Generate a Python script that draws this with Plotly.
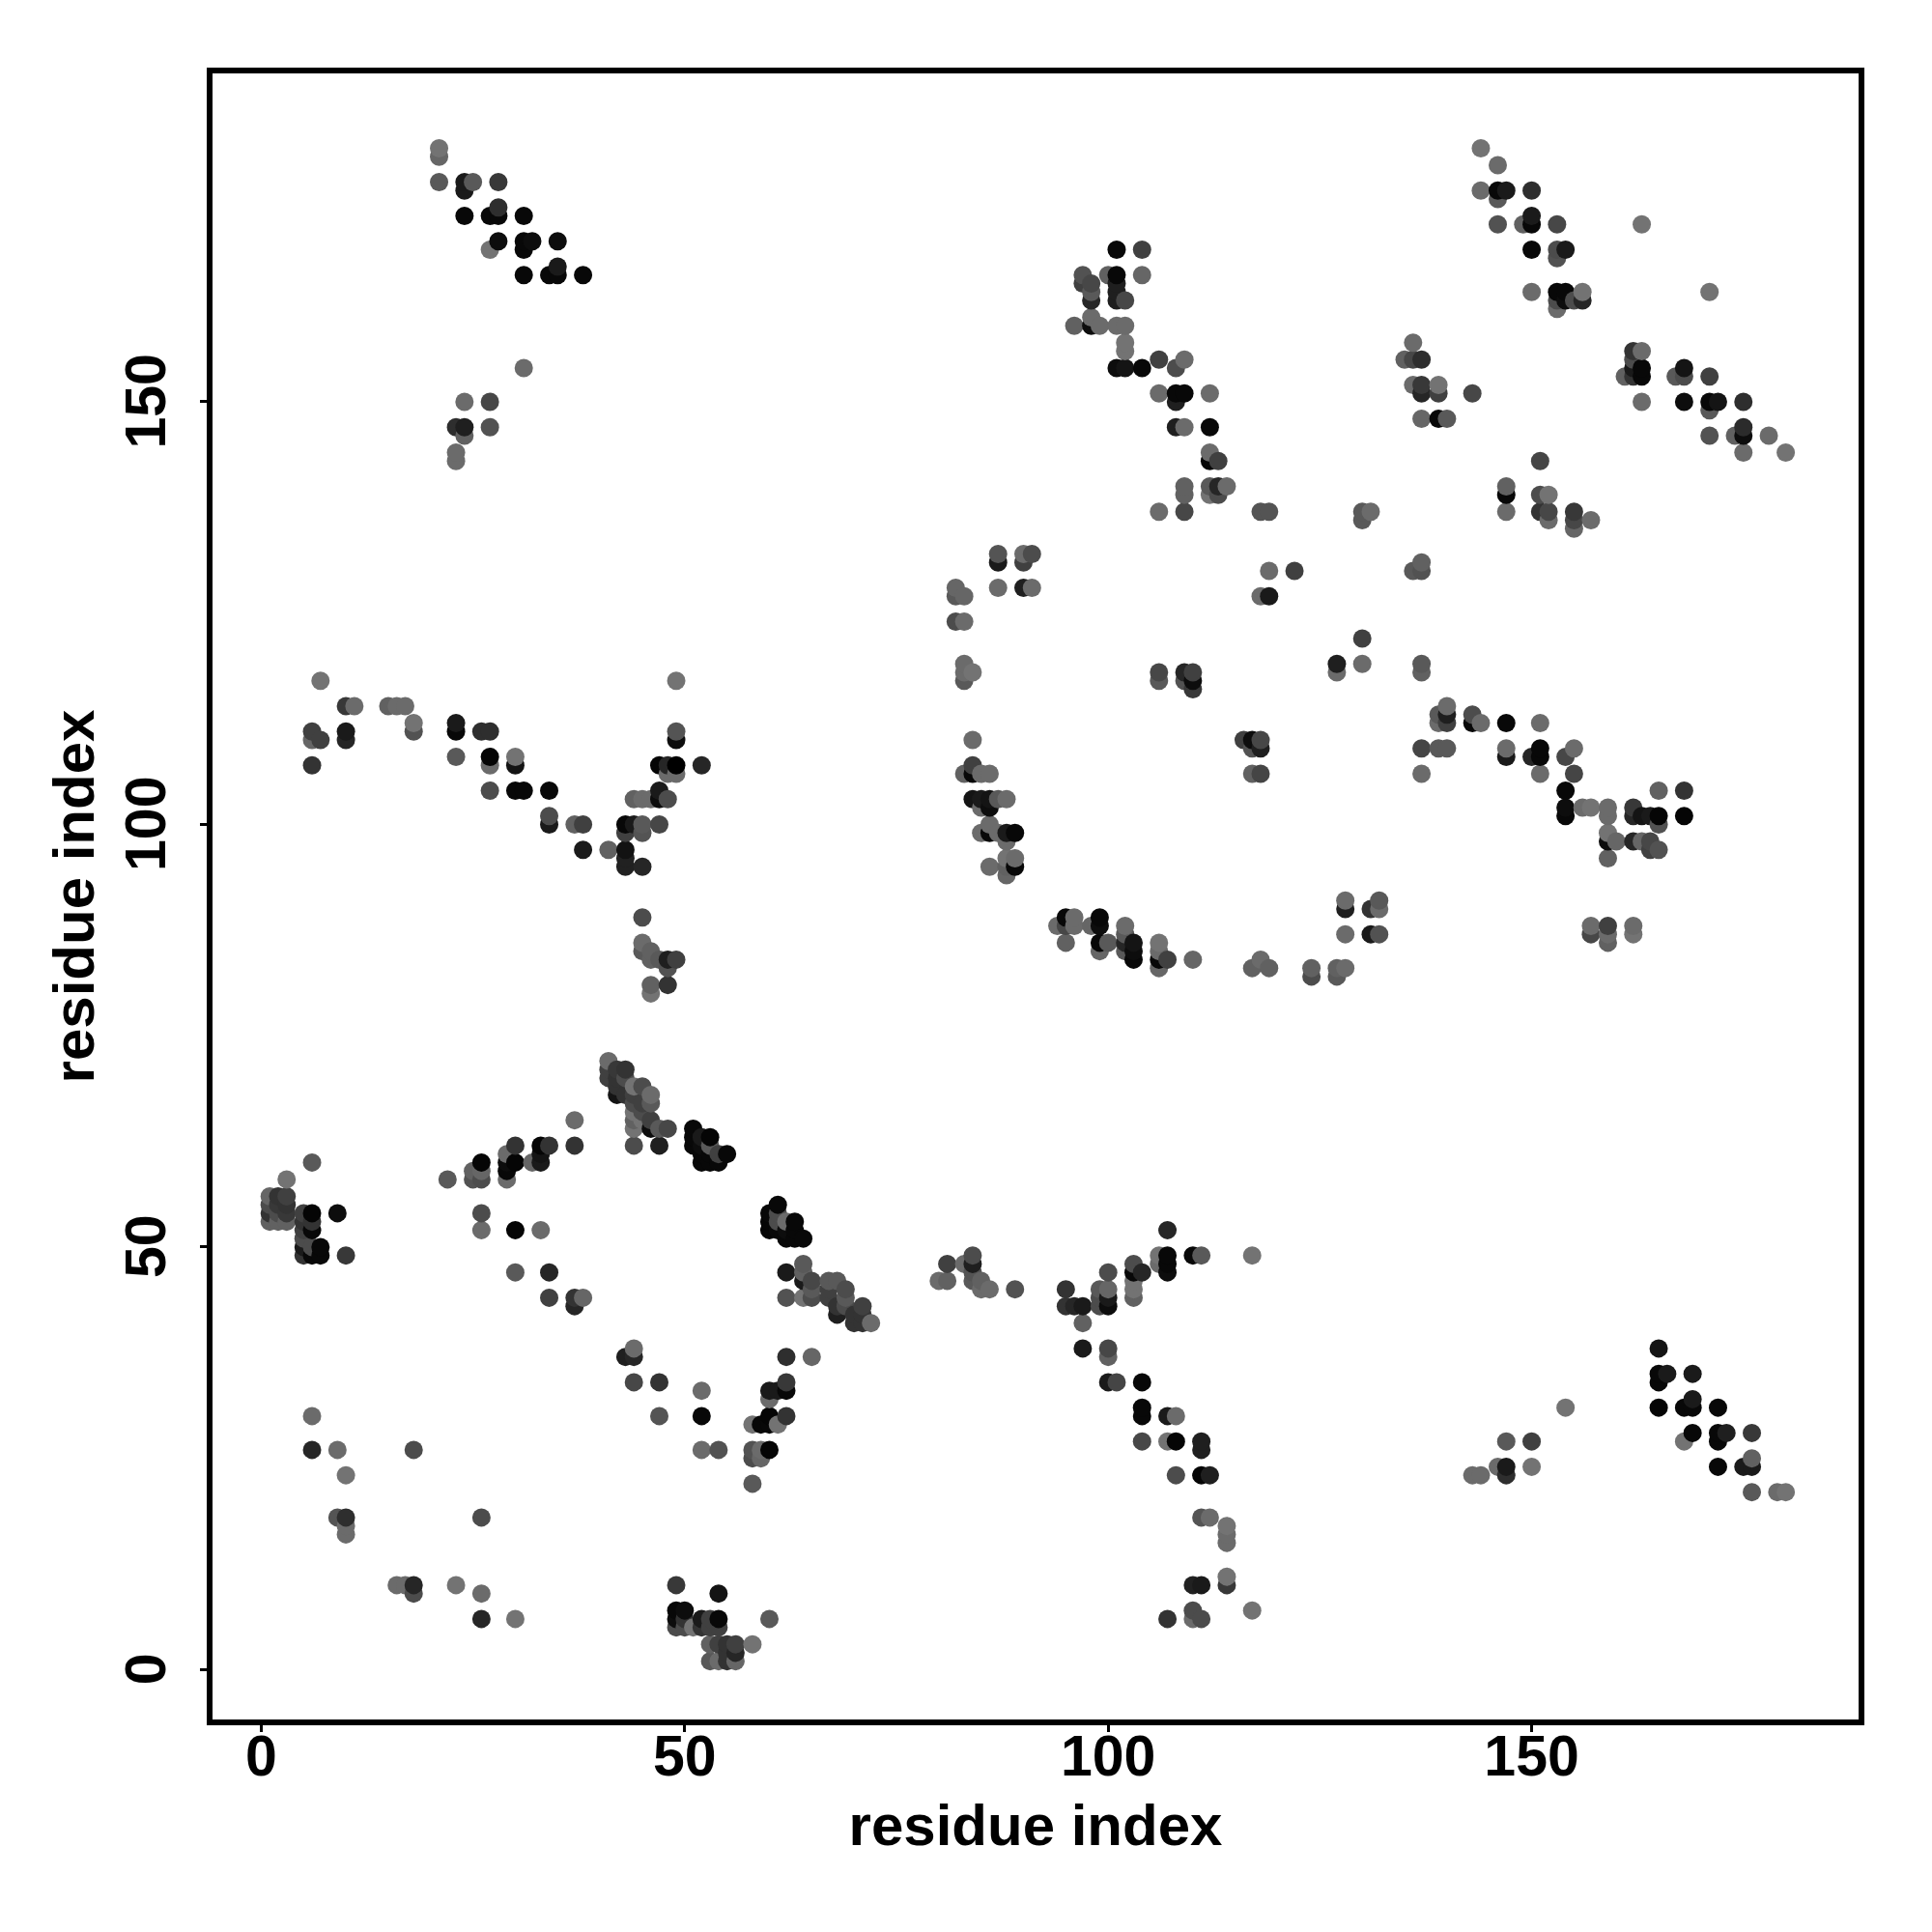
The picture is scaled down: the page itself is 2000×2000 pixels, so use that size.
import plotly.graph_objects as go

# (residue x, residue y, grey level)
top_left = [(21,180,.45),(21,179,.4),(21,176,.35),(24,176,.1),(25,176,.35),(28,176,.22),(24,175,.1),
 (24,172,.03),(27,172,.03),(28,172,.03),(31,172,.03),(28,173,.18),(28,169,.05),(31,169,.03),(32,169,.05),(35,169,.05),
 (27,168,.45),(31,168,.03),(31,165,.03),(34,165,.03),(35,165,.03),(38,165,.03),(35,166,.1),
 (31,154,.42),(24,150,.42),(27,150,.28),(23,147,.18),(24,147,.12),(27,147,.32),(24,146,.38),(23,144,.42),(23,143,.42)]

top_right = [(144,180,.45),(146,178,.42),(144,175,.42),(146,175,.03),(147,175,.1),(150,175,.18),(146,174,.35),
 (146,171,.32),(149,171,.38),(150,171,.03),(153,171,.28),(150,172,.1),(150,168,.03),(153,168,.3),(154,168,.1),(153,167,.32),
 (150,163,.42),(153,163,.03),(154,163,.03),(156,163,.45),(153,162,.3),(154,162,.05),(155,162,.3),(156,162,.15),(153,161,.42),
 (163,171,.45),(171,163,.45),(162,156,.2),(163,156,.42),(162,155,.3),(162,154,.1),(163,154,.03),(161,153,.38),(162,153,.2),(163,153,.03),
 (167,153,.35),(168,153,.3),(168,154,.08),(171,153,.25),(163,150,.42),(168,150,.05),(171,150,.03),(172,150,.08),(175,150,.18),
 (171,149,.35),(171,146,.32),(174,146,.38),(175,146,.05),(178,146,.42),(175,147,.17),(175,144,.42),(180,144,.45),
 (136,157,.42),(135,155,.38),(136,155,.28),(137,155,.18),(136,152,.42),(137,152,.22),(139,152,.45),(137,151,.15),(139,151,.25),(143,151,.28),
 (137,148,.4),(139,148,.03),(140,148,.35),(151,143,.27),(147,140,.38),(147,139,.03),(151,139,.3),(152,139,.45),
 (147,137,.42),(151,137,.2),(152,137,.28),(155,137,.22),(152,136,.42),(155,136,.28),(157,136,.42),(155,135,.4)]

top_middle = [(101,168,.03),(104,168,.25),(97,165,.32),(100,165,.38),(101,165,.03),(104,165,.4),(97,164,.25),(98,164,.28),(101,164,.12),
 (98,163,.35),(101,163,.12),(98,162,.15),(101,162,.12),(102,162,.28),(98,160,.42),(96,159,.38),(98,159,.05),(99,159,.42),(101,159,.42),(102,159,.42),
 (102,157,.45),(102,156,.45),(106,155,.25),(109,155,.42),(101,154,.05),(102,154,.08),(104,154,.03),(108,154,.3),
 (106,151,.42),(108,151,.03),(109,151,.03),(112,151,.42),(108,150,.12),(108,147,.12),(109,147,.42),(112,147,.03),
 (112,144,.42),(112,143,.03),(113,143,.25),(109,140,.38),(112,140,.35),(113,140,.15),(114,140,.42),(109,139,.38),(112,139,.45),(113,139,.3),
 (106,137,.42),(109,137,.28),(118,137,.33),(119,137,.33),(130,137,.35),(131,137,.42),(130,136,.35)]

centre = [(87,132,.33),(90,132,.42),(91,132,.3),(87,131,.1),(90,131,.25),(87,128,.42),(90,128,.12),(91,128,.42),(82,128,.4),(82,127,.35),(83,127,.4),(82,124,.3),(83,124,.42),
 (83,119,.42),(83,118,.42),(84,118,.45),(83,117,.35),(106,118,.28),(106,117,.35),(109,118,.15),(110,118,.25),(109,117,.32),(110,117,.05),(110,116,.22),
 (119,130,.42),(122,130,.25),(118,127,.42),(119,127,.1),(130,122,.25),(127,119,.12),(130,119,.42),(127,118,.42),
 (84,110,.42),(116,110,.25),(117,110,.05),(118,110,.28),(117,109,.32),(118,109,.12),(117,106,.38),(118,106,.27),
 (84,107,.25),(83,106,.38),(84,106,.03),(85,106,.42),(86,106,.42),(84,103,.08),(85,103,.1),(86,103,.08),(87,103,.35),(88,103,.42),(85,102,.42),(86,102,.05),
 (86,100,.42),(85,99,.42),(86,99,.03),(87,99,.42),(88,99,.1),(89,99,.03),(88,98,.42),(88,96,.45),(89,96,.42),(86,95,.42),(88,95,.38),(89,95,.03),(88,94,.4),
 (95,89,.03),(96,89,.42),(94,88,.42),(95,88,.28),(96,88,.42),(98,88,.4),(99,88,.05),(99,89,.03),(95,86,.38),(99,86,.03),(100,86,.35),
 (102,88,.42),(102,87,.35),(102,86,.15),(103,86,.08),(99,85,.4),(102,85,.35),(103,85,.05),(103,84,.03),
 (106,86,.45),(106,85,.42),(106,84,.03),(106,83,.4),(107,84,.25),(110,84,.4),(117,83,.38),(119,83,.38),(118,84,.42),
 (124,83,.38),(127,83,.38),(128,83,.42),(124,82,.3),(127,82,.35),(128,91,.42),(132,91,.35),(128,90,.12),(131,90,.2),(132,90,.42),(128,87,.42),(131,87,.1),(132,87,.32)]

right_middle = [(130,119,.42),(137,119,.35),(137,118,.38),(137,131,.38),(137,130,.32),(136,130,.35),
 (140,114,.42),(139,113,.35),(140,113,.12),(143,113,.3),(139,112,.42),(140,112,.25),(143,112,.03),(144,112,.42),(147,112,.03),(151,112,.42),
 (137,109,.27),(139,109,.35),(140,109,.35),(147,109,.42),(151,109,.03),(155,109,.42),(147,108,.1),(150,108,.15),(151,108,.03),(154,108,.28),
 (137,106,.42),(151,106,.42),(155,106,.27),(154,104,.03),(165,104,.38),(168,104,.2),(154,102,.05),(156,102,.42),(157,102,.45),(159,102,.42),(162,102,.22),
 (154,101,.03),(159,101,.42),(162,101,.15),(163,101,.08),(164,101,.1),(165,101,.02),(168,101,.02),(165,100,.32),(159,99,.45),
 (159,98,.05),(160,98,.4),(162,98,.15),(163,98,.4),(164,98,.28),(164,97,.25),(165,97,.32),(159,96,.38),
 (157,88,.42),(159,88,.25),(162,88,.42),(157,87,.28),(159,87,.42),(162,87,.45),(159,86,.38)]

left_middle = [(7,117,.45),(49,117,.45),(10,114,.22),(11,114,.42),(15,114,.38),(16,114,.42),(17,114,.42),(18,112,.45),
 (6,111,.25),(10,111,.1),(18,111,.32),(23,112,.1),(23,111,.03),(26,111,.18),(27,111,.18),(6,110,.4),(7,110,.25),(10,110,.15),
 (6,107,.2),(23,108,.35),(27,108,.02),(27,107,.42),(30,108,.45),(30,107,.08),(27,104,.3),(30,104,.03),(31,104,.03),(34,104,.03),
 (34,101,.3),(34,100,.1),(37,100,.38),(38,100,.25),(43,100,.03),(44,100,.1),(45,100,.35),(47,100,.28),(43,99,.25),(45,99,.33),
 (38,97,.1),(41,97,.38),(43,97,.07),(43,96,.13),(43,95,.13),(45,95,.15),
 (47,107,.02),(48,107,.15),(49,107,.0),(52,107,.15),(48,106,.42),(49,106,.42),(49,111,.33),(49,110,.05),(47,104,.1),
 (47,103,.05),(44,103,.38),(45,103,.42),(46,103,.42),(48,103,.3),
 (45,89,.3),(45,86,.42),(45,85,.35),(46,85,.38),(46,84,.38),(47,84,.35),(48,84,.12),(49,84,.25),(48,83,.32),(46,81,.38),(48,81,.2),(46,80,.45)]

lower_left = [(6,60,.35),(3,58,.45),(1,56,.4),(2,56,.2),(3,56,.25),(1,55,.3),(2,55,.22),(3,55,.2),(1,54,.2),(2,54,.3),(3,54,.22),(5,54,.25),(6,54,.02),(9,54,.05),
 (1,53,.38),(2,53,.38),(3,53,.38),(5,53,.2),(6,53,.2),(5,52,.25),(6,52,.03),(5,51,.3),(5,50,.1),(6,50,.3),(7,50,.03),(5,49,.2),(6,49,.03),(7,49,.03),(10,49,.22),
 (22,58,.35),(25,58,.32),(26,58,.3),(29,58,.42),(25,59,.38),(26,59,.4),(29,59,.03),(26,60,.02),(29,60,.05),(30,60,.02),(32,60,.4),(33,60,.1),(29,61,.42),(33,61,.08),
 (30,62,.2),(33,62,.02),(34,62,.2),(37,62,.2),(37,65,.42),(26,54,.3),(26,52,.42),(30,52,.02),(33,52,.42),(30,47,.35),(34,47,.15),(34,44,.25),(37,44,.2),(38,44,.4),(37,43,.15),
 (44,38,.42),(43,37,.12),(44,37,.15),(44,34,.28),(47,34,.2)]

lower_centre = [(41,72,.42),(41,71,.25),(42,71,.22),(43,71,.2),(41,70,.25),(42,70,.2),(43,70,.3),(42,69,.2),(44,69,.45),(45,69,.3),
 (42,68,.08),(43,68,.2),(44,68,.25),(46,68,.42),(44,67,.3),(45,67,.25),(46,67,.35),(44,66,.45),(45,66,.3),(44,65,.38),(45,65,.45),(46,65,.25),
 (44,64,.45),(46,64,.05),(47,64,.35),(48,64,.28),(44,62,.3),(47,62,.12),
 (51,64,.03),(51,63,.03),(52,63,.1),(53,63,.02),(51,62,.03),(52,62,.05),(53,62,.35),(52,61,.03),(53,61,.03),(54,61,.25),(55,61,.03),(52,60,.03),(53,60,.03),(54,60,.03),
 (61,55,.03),(60,54,.03),(61,54,.3),(60,53,.02),(61,53,.3),(62,53,.42),(63,53,.03),(60,52,.02),(61,52,.03),(62,52,.05),(63,52,.03),(62,51,.03),(63,51,.03),(64,51,.03),
 (64,48,.35),(62,47,.1),(64,47,.38),(64,46,.1),(65,46,.28),(67,46,.35),(68,46,.35),(65,45,.35),(67,45,.25),(69,45,.3),(62,44,.32),(64,44,.45),(65,44,.3),(67,44,.25),(69,44,.35),
 (68,43,.2),(69,43,.3),(71,43,.25),(68,42,.12),(70,42,.2),(71,42,.2),(70,41,.2),(71,41,.2),(72,41,.42),
 (62,37,.18),(65,37,.4),(62,34,.22),(52,33,.42),(60,33,.1),(61,33,.1),(62,33,.03),(60,32,.42),(52,30,.03),(60,30,.02),(62,30,.2),
 (58,29,.45),(59,29,.03),(60,29,.03),(61,29,.45),(52,26,.4),(54,26,.3),(58,26,.32),(59,26,.42),(60,26,.02),(58,25,.3),(59,25,.4),(58,22,.35)]

lower_mid = [(81,48,.25),(84,49,.3),(84,48,.12),(83,48,.42),(80,46,.42),(81,46,.38),(84,46,.35),(85,46,.38),(84,47,.33),(85,45,.42),(86,45,.42),(89,45,.32),
 (95,45,.2),(95,43,.2),(96,43,.15),(97,43,.1),(99,43,.3),(100,43,.05),(99,44,.3),(100,44,.1),(99,45,.35),(100,45,.4),(100,47,.3),
 (103,48,.3),(103,47,.03),(104,47,.15),(103,46,.45),(103,45,.45),(103,44,.38),(106,48,.42),(107,48,.03),(106,49,.45),(107,49,.03),(110,49,.03),(111,49,.35),(117,49,.45),(107,47,.05),(107,52,.15),
 (97,41,.38),(97,38,.1),(100,38,.28),(100,37,.38),(100,34,.1),(101,34,.27),(104,34,.03),(104,31,.03),(104,30,.03),(107,30,.1),(108,30,.42),
 (104,27,.28),(107,27,.45),(108,27,.02),(111,27,.12),(111,26,.12),(108,23,.3),(111,23,.02),(112,23,.12),(111,18,.33),(112,18,.42),
 (114,17,.45),(114,16,.42),(114,15,.42),(114,11,.45),(110,10,.13),(111,10,.1),(114,10,.22),(110,7,.3),(117,7,.45),(107,6,.2),(110,6,.42),(111,6,.3)]

bottom_left = [(6,30,.42),(6,26,.15),(9,26,.42),(18,26,.3),(10,23,.45),(9,18,.33),(10,18,.18),(26,18,.3),(10,17,.42),(10,16,.42),
 (16,10,.42),(17,10,.42),(18,10,.15),(23,10,.45),(18,9,.3),(26,9,.42),(26,6,.15),(30,6,.45),
 (47,30,.33),(52,26,.42),(54,26,.32),(49,10,.22),(54,9,.08),(49,7,.03),(50,7,.05),(49,6,.05),(50,6,.2),(52,6,.1),(53,6,.25),(54,6,.03),(60,6,.35),
 (49,5,.3),(50,5,.3),(51,5,.45),(52,5,.2),(53,5,.25),(54,5,.25),(53,3,.38),(54,3,.25),(55,3,.2),(56,3,.25),(58,3,.45),(56,2,.15),(55,2,.2),
 (53,1,.35),(54,1,.42),(55,1,.2),(56,1,.4)]

bottom_right = [(165,38,.08),(165,35,.03),(166,35,.1),(169,35,.1),(165,34,.03),(169,32,.1),(154,31,.45),(165,31,.02),(168,31,.03),(169,31,.03),(172,31,.03),
 (169,28,.03),(172,28,.03),(173,28,.12),(176,28,.22),(147,27,.35),(150,27,.25),(168,27,.45),(172,27,.03),(176,25,.38),
 (146,24,.42),(147,24,.1),(150,24,.45),(172,24,.03),(175,24,.1),(176,24,.1),(143,23,.42),(144,23,.42),(147,23,.18),(176,21,.35),(179,21,.42),(180,21,.45)]

tick_values = [0, 50, 100, 150]
axis_title = "residue index"

merged = {}
for group in (top_left, top_right, top_middle, centre, right_middle, left_middle,
              lower_left, lower_centre, lower_mid, bottom_left, bottom_right):
    for a, b, g in group:
        merged[(a, b)] = g
ordered = sorted(merged.items())
xs = [k[0] for k, _ in ordered]
ys = [k[1] for k, _ in ordered]
colors = [f"rgb({round(g*255)},{round(g*255)},{round(g*255)})" for _, g in ordered]

fig = go.Figure(go.Scatter(x=xs, y=ys, mode="markers",
                           marker=dict(size=19, color=colors, line=dict(width=0))))
font = "Liberation Sans"
axis = dict(tickmode="array", tickvals=tick_values,
            showgrid=False, zeroline=False, showline=True, mirror=True, linecolor="black", linewidth=6,
            ticks="outside", ticklen=7, tickwidth=3, tickcolor="black",
            tickfont=dict(family=font, size=59, color="black", weight="bold"),
            title=dict(text=axis_title, font=dict(family=font, size=60, color="black", weight="bold")))
fig.update_layout(
    width=2000, height=2000, showlegend=False, paper_bgcolor="white", plot_bgcolor="white",
    margin=dict(l=220, r=76, t=76, b=220, autoexpand=False),
    font=dict(family=font, size=60, color="black"),
    xaxis=dict(axis, range=[-5.75, 188.6], tickangle=0, ticklabelstandoff=-26,
               ticktext=[str(v) for v in tick_values]),
    # the trailing no-break space re-centres the rotated labels on their ticks
    yaxis=dict(axis, range=[-5.9, 188.85], tickangle=-90, ticklabelstandoff=12,
               ticktext=[f"{v}\u00a0" for v in tick_values]),
)
fig.update_xaxes(title_standoff=20)
fig.update_yaxes(title_standoff=3)
fig.write_html("out.html", post_script="document.body.style.margin='0';",
               config={"displayModeBar": False})
